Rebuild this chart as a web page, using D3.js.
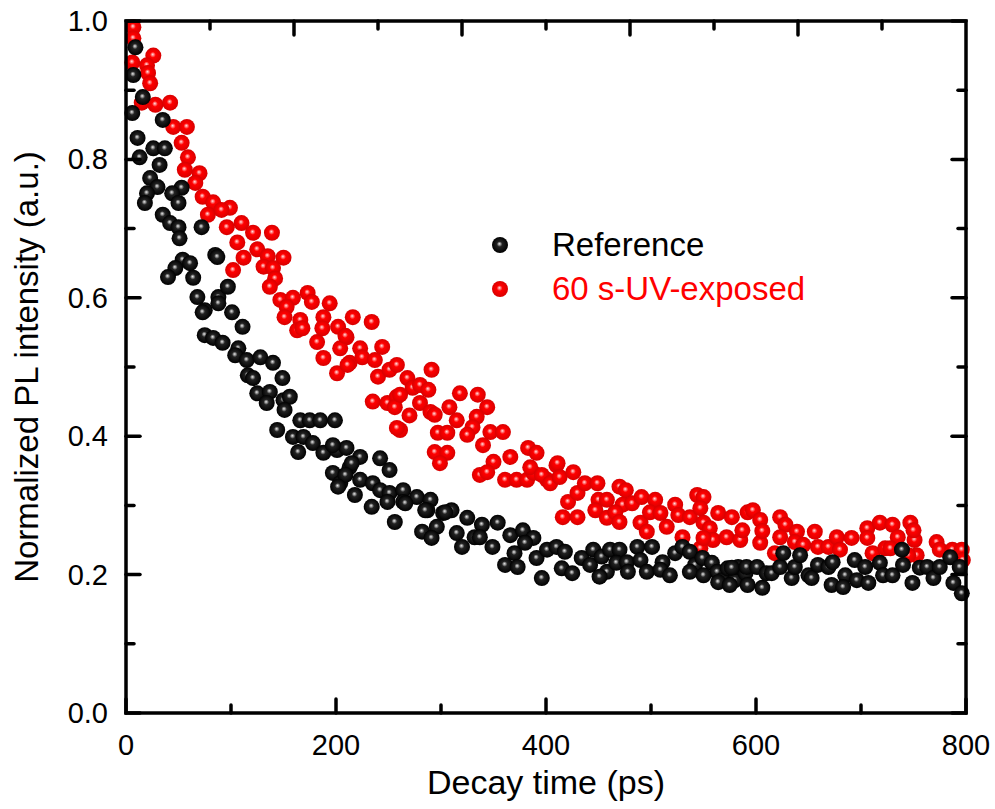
<!DOCTYPE html>
<html lang="en">
<head>
    <meta charset="UTF-8">
    <title>PL decay</title>
    <style>
        body { margin: 0; background: #fff; }
        text { font-family: "Liberation Sans", Arial, sans-serif; }
        .frame { fill: none; stroke: #000; stroke-width: 3.5px; }
        .tick { stroke: #000; stroke-width: 3.5px; stroke-linecap: round; }
    </style>
    <script src="https://d3js.org/d3.v7.min.js"></script>
</head>
<body>
    <div id="chart"></div>
    <script>
        // [decay time (ps), normalized PL intensity]
        const referencePoints = [
            [9,0.962],[7,0.922],[16,0.890],[6,0.867],[35,0.857],[11,0.831],[13,0.803],[26,0.816],[37,0.816],
            [32,0.792],[23,0.773],[30,0.760],[20,0.751],[18,0.737],[53,0.759],[44,0.751],[50,0.737],[35,0.720],
            [42,0.708],[50,0.702],[51,0.686],[72,0.702],[85,0.662],[54,0.655],[61,0.650],[47,0.643],[40,0.630],
            [64,0.629],[68,0.601],[88,0.601],[97,0.616],[75,0.582],[101,0.579],[87,0.659],[88,0.592],[73,0.579],
            [111,0.558],[75,0.546],[83,0.542],[92,0.535],[107,0.527],[104,0.517],[115,0.510],[128,0.514],[140,0.506],
            [116,0.488],[121,0.484],[149,0.484],[125,0.462],[137,0.464],[134,0.448],[150,0.452],[156,0.457],[151,0.438],
            [144,0.409],[166,0.423],[175,0.423],[185,0.423],[199,0.423],[159,0.399],[169,0.399],[178,0.390],[164,0.377],
            [188,0.376],[201,0.380],[210,0.383],[223,0.370],[242,0.368],[197,0.347],[213,0.355],[204,0.332],[223,0.337],
            [235,0.332],[251,0.351],[197,0.387],[215,0.361],[209,0.344],[202,0.327],[218,0.315],[242,0.322],[251,0.318],
            [264,0.322],[234,0.298],[249,0.305],[264,0.305],[277,0.312],[290,0.308],[287,0.293],[256,0.276],[302,0.289],
            [310,0.293],[325,0.282],[339,0.272],[354,0.275],[282,0.262],[296,0.269],[291,0.253],[315,0.260],[332,0.254],
            [349,0.240],[320,0.240],[366,0.257],[378,0.264],[388,0.253],[370,0.231],[391,0.224],[361,0.214],[373,0.211],
            [401,0.236],[410,0.240],[396,0.195],[266,0.303],[285,0.293],[304,0.290],[337,0.254],[380,0.246],[418,0.233],
            [415,0.209],[425,0.202],[434,0.224],[445,0.236],[442,0.214],[453,0.226],[458,0.204],[451,0.197],[461,0.236],
            [470,0.236],[467,0.217],[477,0.218],[478,0.204],[487,0.240],[501,0.240],[490,0.221],[496,0.204],[511,0.218],
            [509,0.207],[518,0.199],[523,0.231],[530,0.240],[537,0.233],[542,0.214],[537,0.204],[549,0.224],[558,0.217],
            [563,0.204],[568,0.192],[573,0.209],[580,0.192],[583,0.211],[590,0.202],[550,0.199],[564,0.189],[577,0.210],
            [575,0.185],[591,0.211],[592,0.185],[601,0.211],[606,0.181],[610,0.202],[615,0.202],[623,0.211],[626,0.231],
            [634,0.195],[637,0.211],[642,0.228],[650,0.199],[653,0.195],[659,0.214],[669,0.211],[673,0.218],[672,0.185],
            [685,0.199],[683,0.182],[694,0.221],[696,0.192],[704,0.211],[707,0.188],[718,0.217],[721,0.199],[730,0.199],
            [739,0.236],[740,0.214],[749,0.188],[756,0.210],[763,0.211],[769,0.195],[775,0.211],[785,0.225],[788,0.188],
            [794,0.211],[796,0.173]
        ];

        const uvExposedPoints = [
            [7,0.991],[7,0.975],[6,0.940],[26,0.950],[20,0.936],[21,0.925],[23,0.910],[15,0.882],[28,0.879],
            [42,0.882],[45,0.847],[58,0.847],[53,0.824],[59,0.803],[56,0.785],[70,0.780],[66,0.766],[73,0.746],
            [83,0.738],[78,0.720],[99,0.730],[91,0.727],[96,0.702],[110,0.708],[121,0.694],[139,0.694],[106,0.680],
            [125,0.670],[135,0.660],[112,0.658],[150,0.658],[131,0.645],[140,0.643],[102,0.640],[142,0.628],[137,0.616],
            [147,0.597],[159,0.600],[153,0.587],[173,0.607],[177,0.594],[194,0.592],[151,0.572],[166,0.568],[188,0.572],
            [163,0.553],[168,0.556],[216,0.572],[234,0.565],[202,0.558],[210,0.543],[182,0.536],[204,0.527],[223,0.527],
            [244,0.529],[188,0.513],[213,0.506],[225,0.514],[237,0.510],[201,0.491],[240,0.486],[251,0.496],[258,0.503],
            [235,0.450],[249,0.448],[258,0.457],[261,0.409],[187,0.556],[209,0.545],[211,0.503],[268,0.484],[291,0.496],
            [273,0.470],[280,0.474],[288,0.467],[256,0.442],[261,0.460],[270,0.430],[280,0.448],[290,0.435],[294,0.431],
            [258,0.412],[308,0.442],[315,0.423],[318,0.462],[335,0.460],[344,0.442],[334,0.428],[330,0.413],[297,0.405],
            [306,0.405],[325,0.402],[340,0.387],[347,0.406],[294,0.377],[306,0.376],[299,0.361],[350,0.363],[366,0.370],
            [383,0.383],[391,0.376],[337,0.344],[344,0.348],[361,0.337],[372,0.337],[382,0.337],[388,0.347],[401,0.337],
            [410,0.358],[359,0.406],[385,0.355],[396,0.344],[404,0.332],[411,0.361],[413,0.341],[426,0.348],[421,0.305],
            [416,0.283],[430,0.283],[430,0.318],[437,0.332],[449,0.332],[450,0.308],[447,0.293],[458,0.308],[458,0.282],
            [470,0.327],[476,0.322],[473,0.301],[466,0.290],[470,0.276],[482,0.303],[491,0.312],[490,0.275],[496,0.262],
            [504,0.308],[499,0.290],[509,0.289],[515,0.269],[523,0.301],[526,0.286],[530,0.254],[537,0.283],[544,0.315],
            [550,0.312],[547,0.296],[550,0.275],[556,0.267],[559,0.250],[547,0.238],[564,0.289],[572,0.254],[577,0.283],
            [585,0.250],[587,0.264],[592,0.290],[550,0.253],[597,0.293],[604,0.279],[604,0.246],[606,0.263],[618,0.231],
            [623,0.283],[628,0.272],[623,0.254],[639,0.262],[637,0.247],[645,0.243],[656,0.262],[659,0.240],[669,0.240],
            [677,0.254],[680,0.236],[691,0.253],[706,0.267],[706,0.253],[711,0.231],[718,0.275],[723,0.238],[730,0.272],
            [735,0.254],[728,0.238],[747,0.275],[751,0.250],[750,0.264],[753,0.228],[745,0.228],[772,0.247],[775,0.236],
            [787,0.236],[796,0.236],[797,0.221]
        ];

        const xTicks = [0, 200, 400, 600, 800];
        const xMinorTicks = [100, 300, 500, 700];
        const yTicks = [0.0, 0.2, 0.4, 0.6, 0.8, 1.0];
        const yMinorTicks = [0.1, 0.3, 0.5, 0.7, 0.9];
        const topTicks = [2, 4, 6, 8];
        const topMinorTicks = [1, 3, 5, 7, 9];
        const seriesNames = ["Reference", "60 s-UV-exposed"];

        const width = 995, height = 809;
        const margin = { top: 21, right: 29, bottom: 96, left: 126 };

        const svg = d3.select("#chart").append("svg")
            .attr("width", width)
            .attr("height", height);

        const x = d3.scaleLinear().domain([0, 800]).range([margin.left, width - margin.right]);
        const xTop = d3.scaleLinear().domain([0, 10]).range([margin.left, width - margin.right]);
        const y = d3.scaleLinear().domain([0, 1]).range([height - margin.bottom, margin.top]);

        // sphere-like markers
        const defs = svg.append("defs");
        function sphere(id, stops) {
            const g = defs.append("radialGradient")
                .attr("id", id)
                .attr("cx", "50%").attr("cy", "50%").attr("r", "50%")
                .attr("fx", "46%").attr("fy", "42%");
            stops.forEach(s => g.append("stop").attr("offset", s[0]).attr("stop-color", s[1]));
        }
        sphere("ballBlack", [["0%", "#e6e6e6"], ["14%", "#9c9c9c"], ["34%", "#222"], ["100%", "#000"]]);
        sphere("ballRed", [["0%", "#ffe4e4"], ["14%", "#ff8a8a"], ["36%", "#ff0000"], ["100%", "#d80000"]]);

        const R = 8;
        const x0 = x.range()[0], x1 = x.range()[1];
        const y0 = y.range()[0], y1 = y.range()[1];

        // points (red underneath, black on top)
        svg.append("g").selectAll("circle")
            .data(uvExposedPoints)
            .join("circle")
            .attr("cx", d => x(d[0]))
            .attr("cy", d => y(d[1]))
            .attr("r", R)
            .attr("fill", "url(#ballRed)");

        svg.append("g").selectAll("circle")
            .data(referencePoints)
            .join("circle")
            .attr("cx", d => x(d[0]))
            .attr("cy", d => y(d[1]))
            .attr("r", R)
            .attr("fill", "url(#ballBlack)");

        // ticks, pointing inward on all four sides
        const ticks = svg.append("g");
        const majorLen = 14, minorLen = 8;
        function vTicks(vals, scale, yBase, dir, len) {
            ticks.selectAll(null).data(vals).join("line")
                .attr("class", "tick")
                .attr("x1", d => scale(d)).attr("x2", d => scale(d))
                .attr("y1", yBase).attr("y2", yBase + dir * len);
        }
        function hTicks(vals, xBase, dir, len) {
            ticks.selectAll(null).data(vals).join("line")
                .attr("class", "tick")
                .attr("y1", d => y(d)).attr("y2", d => y(d))
                .attr("x1", xBase).attr("x2", xBase + dir * len);
        }
        vTicks(xTicks, x, y0, -1, majorLen);
        vTicks(xMinorTicks, x, y0, -1, minorLen);
        vTicks(topTicks, xTop, y1, 1, majorLen);
        vTicks(topMinorTicks, xTop, y1, 1, minorLen);
        hTicks(yTicks, x0, 1, majorLen);
        hTicks(yMinorTicks, x0, 1, minorLen);
        hTicks(yTicks, x1, -1, majorLen);
        hTicks(yMinorTicks, x1, -1, minorLen);

        svg.append("rect")
            .attr("class", "frame")
            .attr("x", x0).attr("y", y1)
            .attr("width", x1 - x0).attr("height", y0 - y1);

        // tick labels
        svg.append("g").selectAll("text")
            .data(xTicks)
            .join("text")
            .attr("x", d => x(d))
            .attr("y", y0 + 42)
            .attr("text-anchor", "middle")
            .attr("font-size", 29)
            .text(d => d);

        svg.append("g").selectAll("text")
            .data(yTicks)
            .join("text")
            .attr("x", x0 - 18)
            .attr("y", d => y(d) + 10)
            .attr("text-anchor", "end")
            .attr("font-size", 29)
            .text(d => d3.format(".1f")(d));

        // axis titles
        svg.append("text")
            .attr("x", (x0 + x1) / 2)
            .attr("y", 794)
            .attr("text-anchor", "middle")
            .attr("font-size", 34)
            .text("Decay time (ps)");

        svg.append("text")
            .attr("transform", `translate(38, ${(y0 + y1) / 2}) rotate(-90)`)
            .attr("text-anchor", "middle")
            .attr("font-size", 33)
            .text("Normalized PL intensity (a.u.)");

        // legend
        const legend = svg.append("g");
        const legendFills = ["url(#ballBlack)", "url(#ballRed)"];
        const legendColors = ["#000", "#ff0000"];
        seriesNames.forEach((name, i) => {
            const ly = 245 + i * 44;
            legend.append("circle")
                .attr("cx", 500).attr("cy", ly).attr("r", R)
                .attr("fill", legendFills[i]);
            legend.append("text")
                .attr("x", 552).attr("y", ly + 11)
                .attr("font-size", 33)
                .attr("fill", legendColors[i])
                .text(name);
        });
    </script>
</body>
</html>
